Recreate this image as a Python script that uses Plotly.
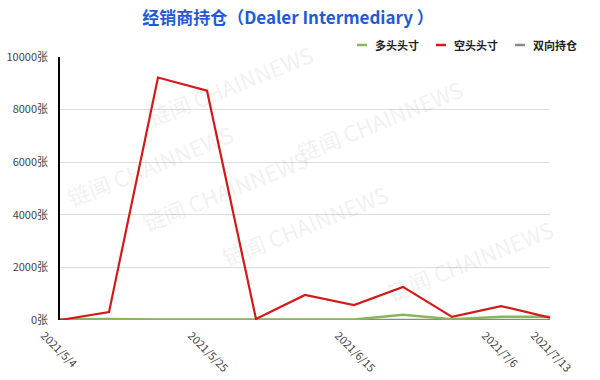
import plotly.graph_objects as go

dates = ["2021/5/4", "2021/5/11", "2021/5/18", "2021/5/25", "2021/6/1", "2021/6/8",
         "2021/6/15", "2021/6/22", "2021/6/29", "2021/7/6", "2021/7/13"]
long_pos = [30, 40, 20, 20, 20, 20, 20, 200, 30, 120, 120]
short_pos = [0, 300, 9220, 8720, 40, 950, 570, 1260, 120, 530, 90]
spread_pos = [0, 0, 0, 0, 0, 0, 0, 0, 0, 0, 0]
tick_show = ["2021/5/4", "2021/5/25", "2021/6/15", "2021/7/6", "2021/7/13"]
y_ticks = [0, 2000, 4000, 6000, 8000, 10000]

series_names = ["多头头寸", "空头头寸", "双向持仓"]
series_colors = ["#86b85a", "#d21a1a", "#8a8a8a"]

FONT = "Noto Sans CJK SC"

fig = go.Figure()
fig.add_trace(go.Scatter(x=dates, y=spread_pos, name=series_names[2], mode="lines",
                         line=dict(color=series_colors[2], width=2.5)))
fig.add_trace(go.Scatter(x=dates, y=long_pos, name=series_names[0], mode="lines",
                         line=dict(color=series_colors[0], width=2.5)))
fig.add_trace(go.Scatter(x=dates, y=short_pos, name=series_names[1], mode="lines",
                         line=dict(color=series_colors[1], width=2.2)))

# custom legend (short line keys)
legend_x = [357, 436, 515]
for name, color, lx in zip(series_names, series_colors, legend_x):
    fig.add_shape(type="line", xref="paper", yref="paper",
                  x0=(lx - 60) / 490, x1=(lx - 50) / 490,
                  y0=(320 - 45) / 263, y1=(320 - 45) / 263,
                  line=dict(color=color, width=2.5))
    fig.add_annotation(xref="paper", yref="paper", x=(lx - 44) / 490, y=(320 - 45) / 263,
                       xanchor="left", yanchor="middle", showarrow=False,
                       text=f"<b>{name}</b>",
                       font=dict(family=FONT, size=11, color="#222222"))

# faint watermarks
for (wx, wy) in [(140, 35), (60, 165), (225, 190), (395, 225), (470, 70), (560, 310)]:
    fig.add_annotation(xref="paper", yref="paper", x=(wx - 60) / 490, y=(320 - wy) / 263,
                       text="链闻 CHAINNEWS", showarrow=False, textangle=-22, opacity=0.05,
                       font=dict(family=FONT, size=22, color="#000000"))

fig.update_layout(
    width=600, height=380,
    margin=dict(l=60, r=50, t=57, b=60, autoexpand=False),
    paper_bgcolor="white", plot_bgcolor="white",
    title=dict(text="<b>经销商持仓（Dealer Intermediary ）</b>", x=0.48, xanchor="center",
               y=0.953, yanchor="middle",
               font=dict(family=FONT, size=17, color="#1f5bd6")),
    showlegend=False,
)
fig.update_xaxes(type="category", range=[0, 10], tickmode="array", tickvals=tick_show,
                 ticktext=tick_show, tickangle=45, showgrid=False, zeroline=False,
                 showline=False, ticks="", ticklabelshift=-16, ticklabelstandoff=6,
                 automargin=False,
                 tickfont=dict(family=FONT, size=11, color="#444444"))
fig.update_yaxes(range=[0, 10000], tickmode="array", tickvals=y_ticks,
                 ticktext=[f"{v}张" for v in y_ticks], showgrid=True, gridcolor="#dddddd",
                 gridwidth=1, zeroline=False, showline=True, linecolor="#000000", linewidth=1.5,
                 ticks="", ticklabelstandoff=8, automargin=False,
                 tickfont=dict(family=FONT, size=11, color="#444444"))

fig.write_html("out.html")
